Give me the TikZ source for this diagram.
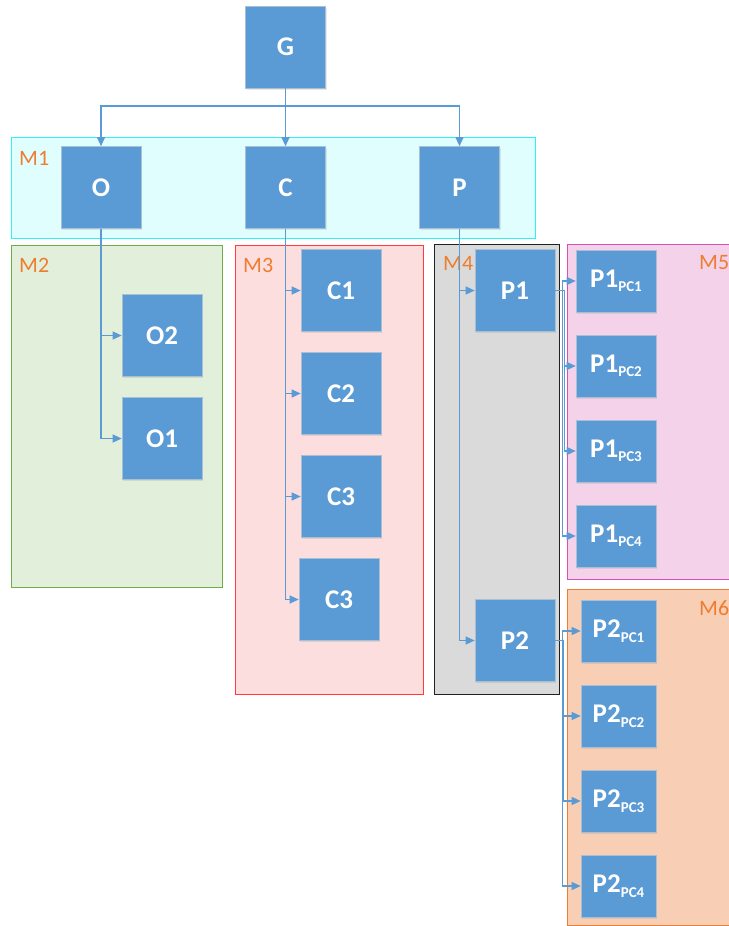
\documentclass[tikz,border=0pt]{standalone}
\usepackage{fontspec}
\setmainfont{Carlito}
\usetikzlibrary{arrows.meta,shadows}
\definecolor{blkfill}{HTML}{5B9BD5}
\definecolor{blkedge}{HTML}{A9BFD6}
\definecolor{lbl}{HTML}{ED7D31}
\definecolor{mAedge}{HTML}{30F2F2}\definecolor{mAfill}{HTML}{E0FEFE}
\definecolor{mBedge}{HTML}{70AD47}\definecolor{mBfill}{HTML}{E2EFDA}
\definecolor{mCedge}{HTML}{FF3B3B}\definecolor{mCfill}{HTML}{FDDEDF}
\definecolor{mDedge}{HTML}{202020}\definecolor{mDfill}{HTML}{DADADA}
\definecolor{mEedge}{HTML}{D94FB5}\definecolor{mEfill}{HTML}{F4D3EA}
\definecolor{mFedge}{HTML}{ED7D31}\definecolor{mFfill}{HTML}{F8CFB4}
\newcommand{\psub}[1]{{\fontsize{15pt}{15pt}\selectfont\raisebox{-4.5pt}{#1}}}
\begin{document}
\begin{tikzpicture}[x=1pt,y=-1pt,
  blk/.style={draw=blkedge,line width=0.6pt,fill=blkfill,text=white,
    font=\fontsize{27pt}{27pt}\selectfont\bfseries,inner sep=0pt,
    minimum width=80pt,minimum height=82pt,
    drop shadow={shadow xshift=1.2pt,shadow yshift=-1.5pt,opacity=0.18}},
  pc/.style={blk,minimum height=62pt},
  region/.style={line width=1pt},
  mlabel/.style={text=lbl,font=\fontsize{22pt}{22pt}\selectfont,inner sep=0pt},
  conn/.style={draw=blkfill,line width=1.2pt,-{Triangle[length=9pt,width=8pt]}}]
\useasboundingbox (0,0) rectangle (728,926);
% regions
\draw[region,draw=mAedge,fill=mAfill] (11,137) rectangle (535,238);
\draw[region,draw=mBedge,fill=mBfill] (11,245) rectangle (222,587);
\draw[region,draw=mCedge,fill=mCfill] (235,245) rectangle (423,694);
\draw[region,draw=mDedge,fill=mDfill] (434,244) rectangle (559,694);
\draw[region,draw=mEedge,fill=mEfill] (567,244) rectangle (732,579);
\draw[region,draw=mFedge,fill=mFfill] (567,589) rectangle (732,925);
\node[mlabel,anchor=west] (lM1) at (19,158) {M1};
\node[mlabel,anchor=west] (lM2) at (19,265) {M2};
\node[mlabel,anchor=west] (lM3) at (243,265) {M3};
\node[mlabel,anchor=west] (lM4) at (443,263) {M4};
\node[mlabel,anchor=west] (lM5) at (699,263) {M5};
\node[mlabel,anchor=west] (lM6) at (699,608) {M6};
\coordinate (gj) at (285.5,106);
% nodes
\node[blk] (G) at (285.5,47) {G};
\node[blk] (O) at (101,187.5) {O};
\node[blk] (C) at (285.5,187.5) {C};
\node[blk] (P) at (459.5,187.5) {P};
\node[blk] (O2) at (162,335.5) {O2};
\node[blk] (O1) at (162,438.5) {O1};
\node[blk] (C1) at (341,290.5) {C1};
\node[blk] (C2) at (341,393.5) {C2};
\node[blk] (C3) at (341,496.5) {C3};
\node[blk] (C4) at (339,599.5) {C3};
\node[blk] (P1) at (515,290.5) {P1};
\node[blk] (P2) at (515,640.5) {P2};
\node[pc] (P1a) at (616,281) {P1\psub{PC1}};
\node[pc] (P1b) at (616,366) {P1\psub{PC2}};
\node[pc] (P1c) at (616,451) {P1\psub{PC3}};
\node[pc] (P1d) at (616,536) {P1\psub{PC4}};
\node[pc,minimum width=75pt] (P2a) at (618.5,631) {P2\psub{PC1}};
\node[pc,minimum width=75pt] (P2b) at (618.5,716) {P2\psub{PC2}};
\node[pc,minimum width=75pt] (P2c) at (618.5,801) {P2\psub{PC3}};
\node[pc,minimum width=75pt] (P2d) at (618.5,886) {P2\psub{PC4}};
% connectors
\draw[conn] (G.south) -- (gj) -| (O.north);
\draw[conn] (G.south) -- (C.north);
\draw[conn] (G.south) -- (gj) -| (P.north);
\draw[conn] (O.south) |- (O2.west);
\draw[conn] (O.south) |- (O1.west);
\draw[conn] (C.south) |- (C1.west);
\draw[conn] (C.south) |- (C2.west);
\draw[conn] (C.south) |- (C3.west);
\draw[conn] (C.south) |- (C4.west);
\draw[conn] (P.south) |- (P1.west);
\draw[conn] (P.south) |- (P2.west);
\foreach \t/\d in {P1a/7,P1b/9,P1c/9,P1d/7}{\draw[conn] (P1.east) -- ++(\d,0) |- (\t.west);}
\foreach \t/\d in {P2a/7,P2b/8,P2c/8,P2d/7}{\draw[conn] (P2.east) -- ++(\d,0) |- (\t.west);}
\end{tikzpicture}
\end{document}
